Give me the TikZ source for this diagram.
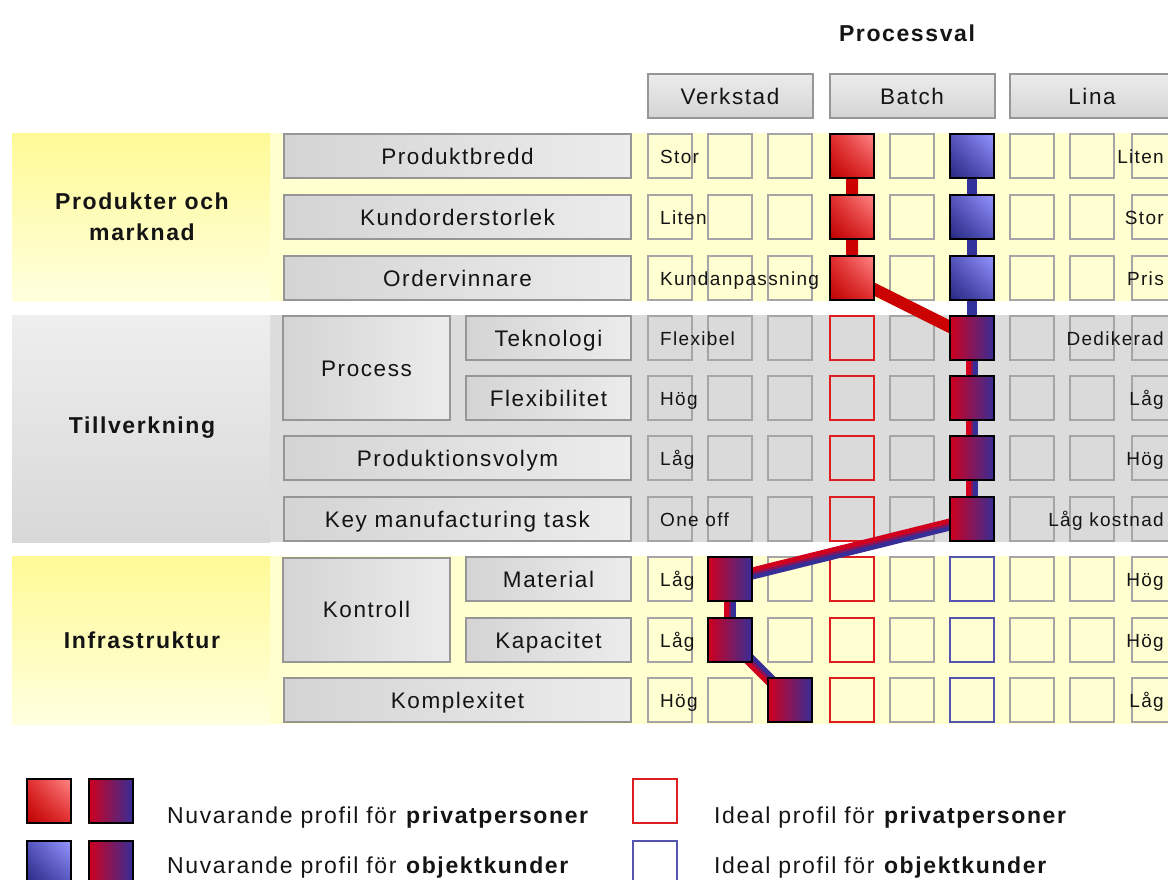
\documentclass[tikz,border=0pt]{standalone}
\usepackage{fontspec}
\setmainfont{Liberation Sans}
\newfontfamily\spaced{Liberation Sans}[LetterSpace=7]
\usetikzlibrary{positioning,calc,shadings}

\definecolor{bandyel}{RGB}{255,250,150}
\definecolor{bandyelpale}{RGB}{255,255,222}
\definecolor{yelback}{RGB}{255,255,208}
\definecolor{cellyel}{RGB}{255,255,210}
\definecolor{bandgrayhi}{RGB}{238,238,238}
\definecolor{bandgraylo}{RGB}{216,216,216}
\definecolor{grayback}{RGB}{220,220,220}
\definecolor{cellgray}{RGB}{218,218,218}
\definecolor{cellline}{RGB}{165,165,165}
\definecolor{boxline}{RGB}{150,150,150}
\definecolor{boxlo}{RGB}{212,212,212}
\definecolor{boxhi}{RGB}{236,236,236}
\definecolor{inktxt}{RGB}{20,20,20}
\definecolor{redlight}{RGB}{255,135,135}
\definecolor{redmid}{RGB}{225,45,45}
\definecolor{reddark}{RGB}{190,0,0}
\definecolor{bluelight}{RGB}{150,150,255}
\definecolor{bluemid}{RGB}{85,85,190}
\definecolor{bluedark}{RGB}{40,40,130}
\definecolor{mixred}{RGB}{208,0,30}
\definecolor{mixmid}{RGB}{135,20,90}
\definecolor{mixblue}{RGB}{55,45,150}
\definecolor{linkred}{RGB}{204,0,0}
\definecolor{linkblue}{RGB}{50,50,155}
\definecolor{idealred}{RGB}{222,30,30}
\definecolor{idealblue}{RGB}{85,85,175}

\pgfdeclarelayer{links}
\pgfdeclarelayer{marks}
\pgfsetlayers{main,links,marks}

\newcommand\mixlink[2]{%
  \draw[halfred]  ($(#1.center)!3pt!-90:(#2.center)$) -- ($(#2.center)!3pt!90:(#1.center)$);
  \draw[halfblue] ($(#1.center)!3pt!90:(#2.center)$) -- ($(#2.center)!3pt!-90:(#1.center)$);
  \draw[halfmid]  (#1.center) -- (#2.center);
}

\begin{document}
\begin{tikzpicture}[
  x=1pt, y=-1pt,
  font=\spaced\fontsize{22.5}{27}\selectfont, text=inktxt,
  cell/.style={rectangle, draw=cellline, line width=2pt, minimum size=44pt,
               inner sep=0pt, outer sep=0pt},
  idealp/.style={cell, draw=idealred},
  idealo/.style={cell, draw=idealblue},
  privmark/.style={cell, draw=black, shading=bilinear interpolation,
                   upper right=redlight, lower left=reddark,
                   upper left=redmid, lower right=redmid},
  objmark/.style={cell, draw=black, shading=bilinear interpolation,
                  upper right=bluelight, lower left=bluedark,
                  upper left=bluemid, lower right=bluemid},
  mixmark/.style={cell, draw=black, left color=mixred, right color=mixblue},
  lbl/.style={rectangle, draw=boxline, line width=2pt, left color=boxlo, right color=boxhi,
              minimum height=44pt, inner sep=0pt, outer sep=0pt,
              text height=16pt, text depth=0pt},
  head/.style={rectangle, draw=boxline, line width=2pt, top color=boxhi, bottom color=boxlo,
               minimum width=165pt, minimum height=44pt, inner sep=0pt, outer sep=0pt,
               text height=16pt, text depth=0pt},
  bandlbl/.style={font=\spaced\fontsize{23}{31}\selectfont\bfseries, align=center},
  celltxt/.style={font=\spaced\fontsize{19}{23}\selectfont, inner sep=0pt,
                  text height=14pt, text depth=0pt},
  privlink/.style={draw=linkred, line width=12pt},
  objlink/.style={draw=linkblue, line width=10pt},
  halfred/.style={draw=mixred, line width=6pt},
  halfblue/.style={draw=mixblue, line width=6pt},
  halfmid/.style={draw=mixmid, line width=2.5pt},
  legtxt/.style={anchor=base west, inner sep=0pt, font=\spaced\fontsize{23}{27}\selectfont},
]
\useasboundingbox (0,0) rectangle (1168,879);
\clip (0,0) rectangle (1168,879);
\fill[white] (0,0) rectangle (1168,879);

% bands
\fill[yelback] (12,133) rectangle (1180,301);
\shade[top color=bandyel, bottom color=bandyelpale] (12,133) rectangle (270,301);
\fill[grayback] (12,315) rectangle (1180,542);
\shade[top color=bandgrayhi, bottom color=bandgraylo] (12,315) rectangle (270,542);
\fill[yelback] (12,556) rectangle (1180,724);
\shade[top color=bandyel, bottom color=bandyelpale] (12,556) rectangle (270,724);

\foreach \y/\r/\f in {156/1/cellyel, 217/2/cellyel, 278/3/cellyel, 338/4/cellgray,
                      398/5/cellgray, 458/6/cellgray, 519/7/cellgray, 579/8/cellyel,
                      640/9/cellyel, 700/10/cellyel}
  \foreach \x [count=\c] in {670,730,790,852,912,972,1032,1092,1154}
    \node[cell, fill=\f] (c\r-\c) at (\x,\y) {};

\node[bandlbl] (processval) at (907,33) {Processval};
\node[head, above=16pt of c1-2] (verkstad) {Verkstad};
\node[head, above=16pt of c1-5] (batch) {Batch};
\node[head, above=16pt of c1-8] (lina) {Lina};

\node[bandlbl] (grp1) at (142,217) {Produkter och\\marknad};
\node[bandlbl] (grp2) at (142,428) {Tillverkning};
\node[bandlbl] (grp3) at (142,640) {Infrastruktur};

\node[lbl, minimum width=347pt, left=17pt of c1-1] (produktbredd) {Produktbredd};
\node[lbl, minimum width=347pt, left=17pt of c2-1] (kundorder) {Kundorderstorlek};
\node[lbl, minimum width=347pt, left=17pt of c3-1] (ordervinn) {Ordervinnare};
\node[lbl, minimum width=165pt, left=17pt of c4-1] (teknologi) {Teknologi};
\node[lbl, minimum width=165pt, left=17pt of c5-1] (flexibilitet) {Flexibilitet};
\node[lbl, minimum width=167pt, minimum height=104pt, anchor=east, xshift=-16pt]
  (process) at ($(teknologi.south west)!.5!(flexibilitet.north west)$) {Process};
\node[lbl, minimum width=347pt, left=17pt of c6-1] (prodvolym) {Produktionsvolym};
\node[lbl, minimum width=347pt, left=17pt of c7-1] (keytask) {Key manufacturing task};
\node[lbl, minimum width=165pt, left=17pt of c8-1] (material) {Material};
\node[lbl, minimum width=165pt, left=17pt of c9-1] (kapacitet) {Kapacitet};
\node[lbl, minimum width=167pt, minimum height=104pt, anchor=east, xshift=-16pt]
  (kontroll) at ($(material.south west)!.5!(kapacitet.north west)$) {Kontroll};
\node[lbl, minimum width=347pt, left=17pt of c10-1] (komplexitet) {Komplexitet};

\foreach \r/\lt/\rt in {1/Stor/Liten, 2/Liten/Stor, 3/Kundanpassning/Pris,
                        4/Flexibel/Dedikerad, 5/Hög/Låg, 6/Låg/Hög, 7/One off/Låg kostnad,
                        8/Låg/Hög, 9/Låg/Hög, 10/Hög/Låg} {
  \node[celltxt, anchor=west, xshift=12pt] (lt\r) at (c\r-1.west) {\lt};
  \node[celltxt, anchor=east, xshift=-12pt] (rt\r) at (c\r-9.east) {\rt};
}

\foreach \r in {4,...,10}
  \node[idealp] (ip\r) at (c\r-4) {};
\foreach \r in {8,9,10}
  \node[idealo] (io\r) at (c\r-6) {};

\begin{pgfonlayer}{marks}
\foreach \r in {1,2,3} {
  \node[privmark] (p\r) at (c\r-4) {};
  \node[objmark] (o\r) at (c\r-6) {};
}
\foreach \r in {4,...,7}
  \node[mixmark] (m\r) at (c\r-6) {};
\node[mixmark] (m8) at (c8-2) {};
\node[mixmark] (m9) at (c9-2) {};
\node[mixmark] (m10) at (c10-3) {};
\end{pgfonlayer}

\begin{pgfonlayer}{links}
\draw[privlink] (p1.center) -- (p2.center) -- (p3.center) -- (m4.center);
\draw[objlink] (o1.center) -- (o2.center) -- (o3.center) -- (m4.center);
\mixlink{m4}{m5}
\mixlink{m5}{m6}
\mixlink{m6}{m7}
\mixlink{m7}{m8}
\mixlink{m8}{m9}
\mixlink{m9}{m10}
\end{pgfonlayer}

% legend
\node[privmark] (legp) at (48.5,800.5) {};
\node[mixmark, right=18pt of legp] (legm1) {};
\node[objmark, below=18pt of legp] (lego) {};
\node[mixmark, right=18pt of lego] (legm2) {};
\node[legtxt] (legtxt1) at (167,823) {Nuvarande profil för \textbf{privatpersoner}};
\node[legtxt] (legtxt2) at (167,873) {Nuvarande profil för \textbf{objektkunder}};
\node[idealp] (legip) at (654.5,800.5) {};
\node[idealo, below=18pt of legip] (legio) {};
\node[legtxt] (legtxt3) at (714,823) {Ideal profil för \textbf{privatpersoner}};
\node[legtxt] (legtxt4) at (714,873) {Ideal profil för \textbf{objektkunder}};
\end{tikzpicture}
\end{document}
